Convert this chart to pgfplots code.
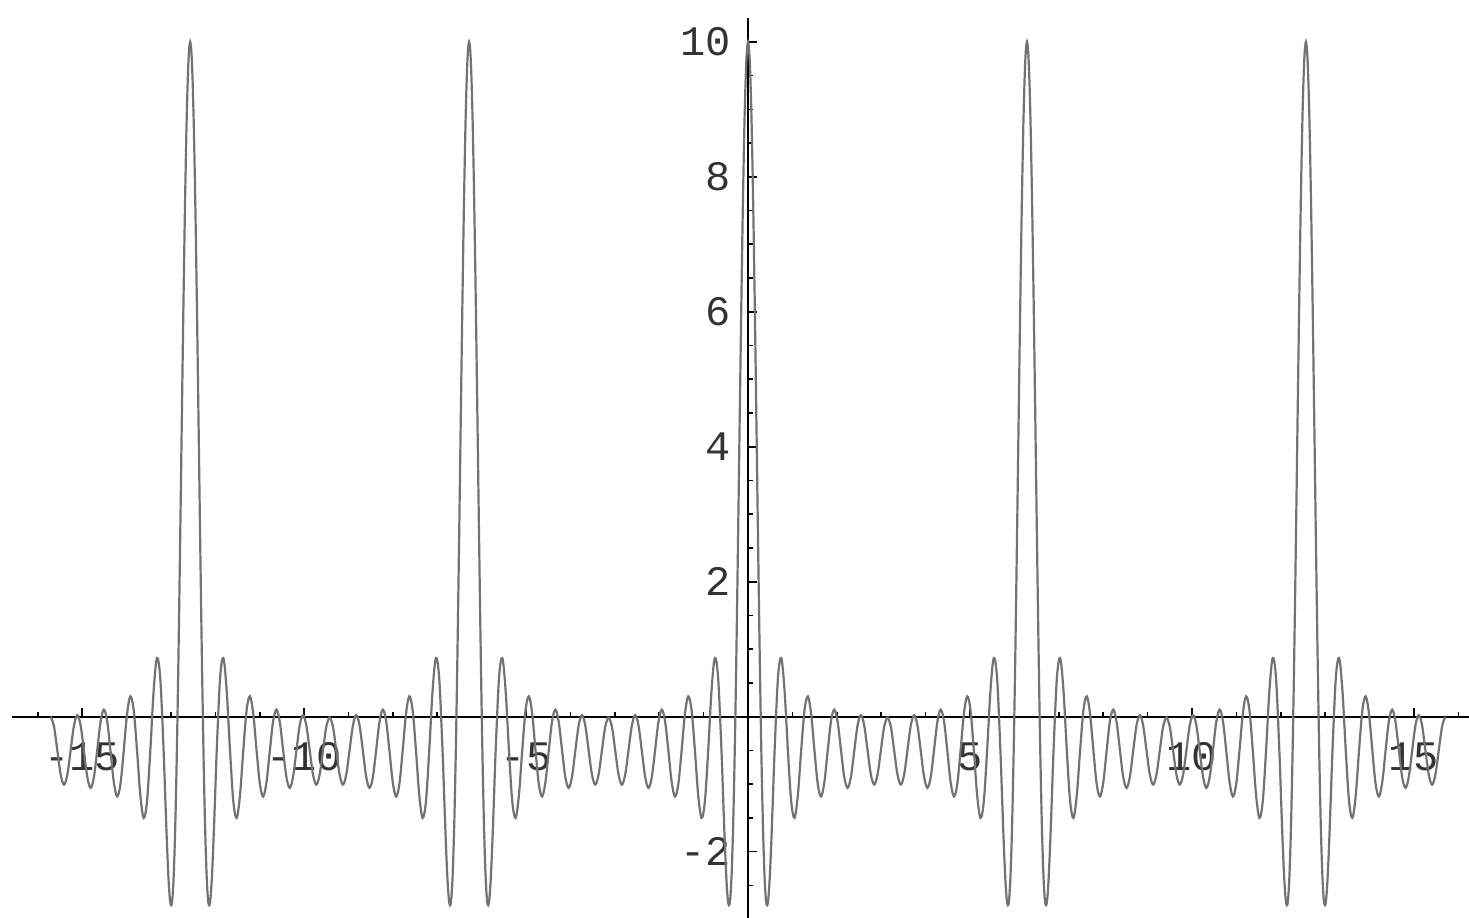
\documentclass[border=0pt]{standalone}
\usepackage{fontspec}
\setmainfont{Liberation Mono}
\usepackage{pgfplots}
\pgfplotsset{compat=1.18}
\usepackage{pgfplotstable}
% one period of the curve, x in [-pi, pi]
\pgfplotstableread{
x y
-3.14159 0
-3.06679 -0.146
-2.99199 -0.5
-2.91719 -0.856
-2.84239 -1.006
-2.76759 -0.860
-2.69279 -0.5
-2.61799 -0.134
-2.54319 0.023
-2.46839 -0.125
-2.39359 -0.5
-2.31880 -0.886
-2.24400 -1.055
-2.16920 -0.900
-2.09440 -0.5
-2.01960 -0.082
-1.94480 0.105
-1.87000 -0.061
-1.79520 -0.5
-1.72040 -0.966
-1.64560 -1.182
-1.57080 -1.000
-1.49600 -0.5
-1.42120 0.042
-1.34640 0.302
-1.27160 0.095
-1.19680 -0.5
-1.12200 -1.165
-1.04720 -1.5
-0.97240 -1.257
-0.89760 -0.5
-0.82280 0.384
-0.74800 0.869
-0.67320 0.570
-0.59840 -0.5
-0.56100 -1.191
-0.52360 -1.866
-0.48620 -2.419
-0.44880 -2.747
-0.41140 -2.762
-0.37400 -2.402
-0.33660 -1.642
-0.29920 -0.5
-0.26180 0.966
-0.22440 2.658
-0.18700 4.448
-0.14960 6.191
-0.11220 7.739
-0.07480 8.956
-0.03740 9.733
0 10
0.03740 9.733
0.07480 8.956
0.11220 7.739
0.14960 6.191
0.18700 4.448
0.22440 2.658
0.26180 0.966
0.29920 -0.5
0.33660 -1.642
0.37400 -2.402
0.41140 -2.762
0.44880 -2.747
0.48620 -2.419
0.52360 -1.866
0.56100 -1.191
0.59840 -0.5
0.67320 0.570
0.74800 0.869
0.82280 0.384
0.89760 -0.5
0.97240 -1.257
1.04720 -1.5
1.12200 -1.165
1.19680 -0.5
1.27160 0.095
1.34640 0.302
1.42120 0.042
1.49600 -0.5
1.57080 -1.000
1.64560 -1.182
1.72040 -0.966
1.79520 -0.5
1.87000 -0.061
1.94480 0.105
2.01960 -0.082
2.09440 -0.5
2.16920 -0.900
2.24400 -1.055
2.31880 -0.886
2.39359 -0.5
2.46839 -0.125
2.54319 0.023
2.61799 -0.134
2.69279 -0.5
2.76759 -0.860
2.84239 -1.006
2.91719 -0.856
2.99199 -0.5
3.06679 -0.146
3.14159 0
}\period
\begin{document}
\begin{tikzpicture}
\begin{axis}[
  scale only axis,
  width=364.3pt, height=225.1pt,
  xmin=-16.58, xmax=16.24, ymin=-2.98, ymax=10.36,
  axis lines=middle,
  axis line style={-, line width=0.5pt, black},
  xtick={-15,-10,-5,5,10,15},
  ytick={-2,2,4,6,8,10},
  minor xtick={-16,-15,...,16},
  minor ytick={-2.5,-2,...,10},
  tick align=inside,
  major tick length=2.2pt,
  minor tick length=1.3pt,
  every tick/.style={black, line width=0.4pt},
  ticklabel style={font=\fontsize{10.5}{12}\selectfont, text=black!80},
  /pgf/number format/assume math mode=true,
  xticklabel style={yshift=-3pt},
  yticklabel style={xshift=-0.8pt},
]
\pgfplotsinvokeforeach{-4,-2,0,2,4}{
  \addplot[black!55, line width=0.55pt, smooth, tension=0.55]
    table[x expr=\thisrow{x}+#1*3.14159265, y=y] {\period};
}
\coordinate (BL) at (axis cs:-16.85,-2.98);
\coordinate (TR) at (axis cs:16.24,10.62);
\end{axis}
\pgfresetboundingbox
\path[use as bounding box] (BL) rectangle (TR);
\end{tikzpicture}
\end{document}
